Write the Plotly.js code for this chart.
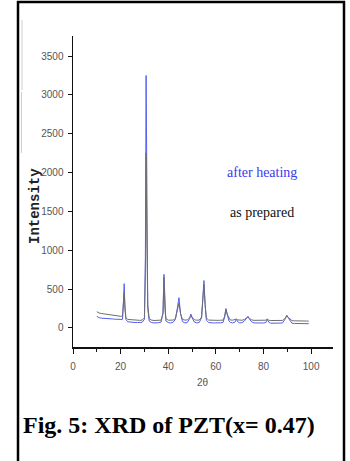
<!DOCTYPE html>
<html>
<head>
<meta charset="utf-8">
<script src="https://cdn.plot.ly/plotly-3.0.1.min.js"></script>
<style>
html,body{margin:0;padding:0;background:#fff;}
#chart{width:350px;height:461px;}
</style>
</head>
<body>
<div id="chart"></div>
<script>
// 2θ values (degrees)
var twoTheta = [10,11,12,13,14,15,16,17,18,19,20,20.8,21.2,21.5,21.8,22.2,23,24,25,26,27,28,29,30,30.4,30.7,31.0,31.4,32,33,34,35,36,37,37.8,38.2,38.6,39,40,41,42,43,43.8,44.5,45.2,46,47,48,49,49.5,50,51,52,53,54,54.6,55,55.5,56,57,58,59,60,61,62,63,63.7,64.2,64.8,65.5,66,67,68,68.6,69.2,70,71,72,73,73.5,74,75,76,77,78,79,80,81,81.6,82.2,83,84,85,86,87,88,89,89.8,90.6,91.5,92,93,94,95,96,97,98,99];
// intensity "as prepared" (gray)
var asPrepared = [210,192,186,181,176,172,169,165,160,156,150,152,300,460,250,130,110,106,101,99,96,98,101,130,700,2250,1200,300,120,101,96,95,98,101,180,650,250,120,100,96,101,120,220,320,180,110,101,104,130,165,140,105,100,101,140,350,560,300,130,101,98,97,100,98,99,101,150,240,170,120,104,100,105,115,104,100,99,110,130,140,125,105,98,97,99,96,98,100,115,100,96,95,94,96,95,97,120,155,130,100,94,92,93,91,92,90,89,88];
// intensity "after heating" (blue)
var afterHeating = [150,132,126,122,120,118,117,115,112,110,105,110,350,570,300,110,80,75,72,70,70,68,72,110,900,3250,1500,250,90,70,65,65,68,75,200,690,230,90,70,65,72,110,250,390,180,80,65,70,120,180,130,75,65,70,130,400,610,300,100,70,65,64,66,64,66,70,140,250,160,90,75,65,75,110,80,65,68,90,130,150,120,80,65,63,64,62,64,70,110,75,62,61,60,62,61,64,110,165,120,70,60,58,59,57,58,56,55,55];
var yTicks = [0,500,1000,1500,2000,2500,3000,3500];
var xTicks = [0,20,40,60,80,100];

var W = 350, H = 461, L = 73, R = 17, T = 36, B = 114;
var pw = W - L - R, ph = H - T - B;
function px(x){ return (x - L) / pw; }
function py(y){ return (H - B - y) / ph; }

var traces = [
  {x: twoTheta, y: afterHeating, type: 'scatter', mode: 'lines', name: 'after heating',
   line: {color: '#5560f0', width: 1}},
  {x: twoTheta, y: asPrepared, type: 'scatter', mode: 'lines', name: 'as prepared',
   line: {color: '#6e6e6e', width: 1}}
];

var tickFont = {family: '"Liberation Sans Narrow", "Liberation Sans", Arial, sans-serif', size: 10, color: '#555'};

var layout = {
  width: W, height: H,
  margin: {l: L, r: R, t: T, b: B},
  paper_bgcolor: '#fff', plot_bgcolor: '#fff',
  showlegend: false,
  xaxis: {
    range: [0, 109.2], showgrid: false, zeroline: false,
    showline: true, linecolor: '#111', linewidth: 1.5,
    tickvals: xTicks, ticktext: xTicks.map(String),
    ticks: 'outside', ticklen: 5, tickwidth: 1, tickcolor: '#111',
    minor: {tickvals: [10,30,50,70,90,110], ticks: 'outside', ticklen: 3, tickcolor: '#111'},
    tickfont: tickFont, ticklabelstandoff: 4
  },
  yaxis: {
    range: [-245, 3758], showgrid: false, zeroline: false,
    showline: true, linecolor: '#111', linewidth: 1.5,
    tickvals: yTicks, ticktext: yTicks.map(String),
    ticks: 'outside', ticklen: 4, tickwidth: 1, tickcolor: '#111',
    tickfont: tickFont, ticklabelstandoff: 2
  },
  shapes: [
    {type: 'line', xref: 'paper', yref: 'paper', x0: px(18), x1: px(18), y0: py(1), y1: py(461), line: {color: '#000', width: 2.5}},
    {type: 'line', xref: 'paper', yref: 'paper', x0: px(17), x1: px(345), y0: py(2), y1: py(2), line: {color: '#000', width: 2.5}},
    {type: 'line', xref: 'paper', yref: 'paper', x0: px(344), x1: px(344), y0: py(1), y1: py(461), line: {color: '#000', width: 2.5}},
    {type: 'line', xref: 'paper', yref: 'paper', x0: px(22), x1: px(22), y0: py(20), y1: py(90), line: {color: '#cfcfcf', width: 1}},
    {type: 'line', xref: 'paper', yref: 'paper', x0: px(21.5), x1: px(21.5), y0: py(92), y1: py(153), line: {color: '#cfcfcf', width: 1}}
  ],
  annotations: [
    {xref: 'paper', yref: 'paper', x: px(35), y: py(206), text: '<b>Intensity</b>', showarrow: false, textangle: -90,
     xanchor: 'center', yanchor: 'middle',
     font: {family: '"Liberation Mono", "DejaVu Sans Mono", monospace', size: 14, color: '#222'}},
    {xref: 'paper', yref: 'paper', x: px(203), y: py(382), text: '2θ', showarrow: false,
     xanchor: 'center', yanchor: 'middle', font: {family: '"Liberation Sans Narrow", "Liberation Sans", sans-serif', size: 10, color: '#555'}},
    {xref: 'paper', yref: 'paper', x: px(262), y: py(172), text: 'after heating', showarrow: false,
     xanchor: 'center', yanchor: 'middle', font: {family: '"Liberation Serif", "Times New Roman", serif', size: 14, color: '#3a3aee'}},
    {xref: 'paper', yref: 'paper', x: px(262), y: py(212), text: 'as prepared', showarrow: false,
     xanchor: 'center', yanchor: 'middle', font: {family: '"Liberation Serif", "Times New Roman", serif', size: 14, color: '#111'}},
    {xref: 'paper', yref: 'paper', x: px(21), y: py(425), text: '<b>Fig. 5: XRD of PZT(x= 0.47)</b>', showarrow: false,
     xanchor: 'left', yanchor: 'middle', font: {family: '"Liberation Serif", "Times New Roman", serif', size: 24, color: '#000'}}
  ]
};

Plotly.newPlot('chart', traces, layout, {displayModeBar: false, staticPlot: true});
</script>
</body>
</html>
